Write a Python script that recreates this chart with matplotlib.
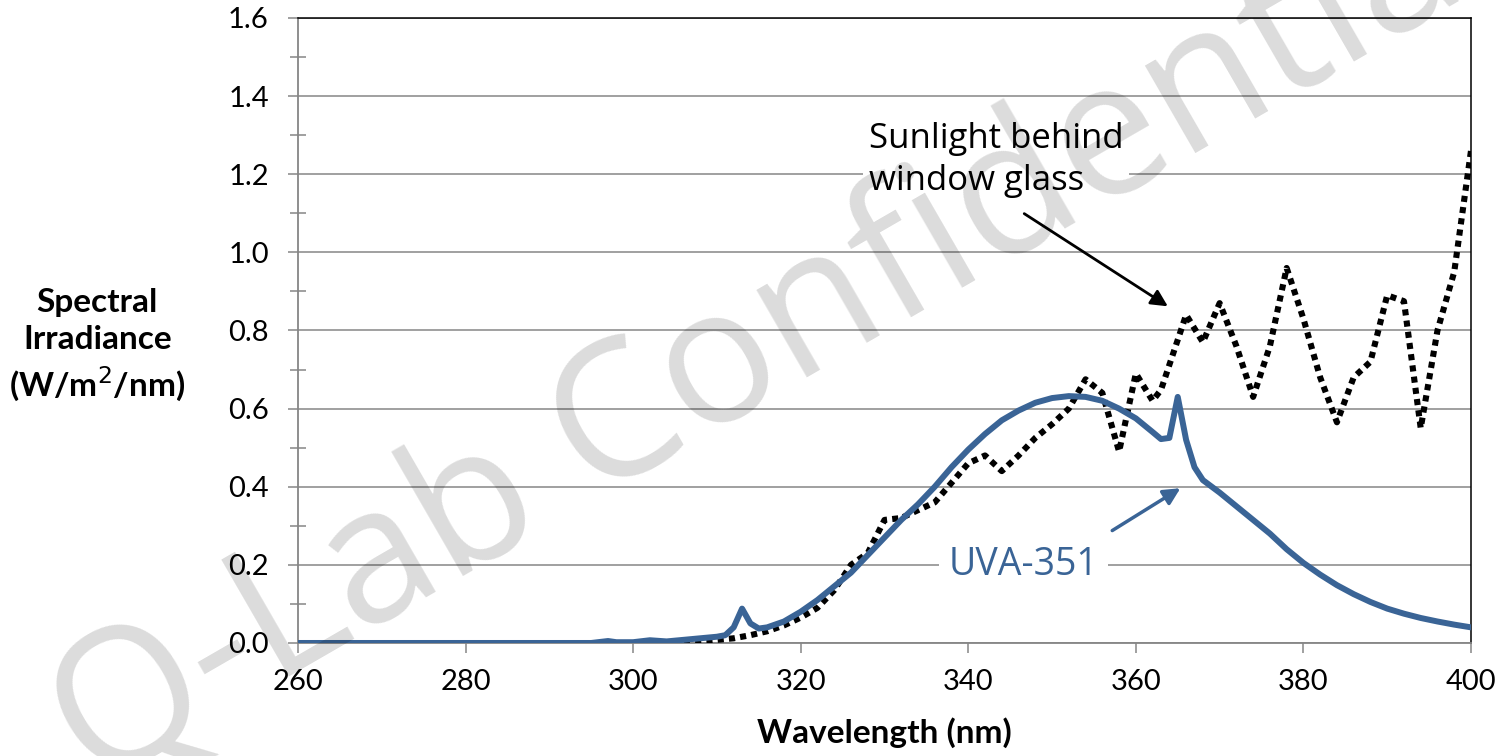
import matplotlib
matplotlib.use('Agg')
import matplotlib.pyplot as plt
import numpy as np

# UVA-351 lamp spectrum
uva_nm = [260, 270, 280, 290, 295, 297, 298, 300, 302, 304, 306, 308, 310, 311, 312, 313, 314, 315,
          316, 318, 320, 322, 324, 326, 328, 330, 332, 334, 336, 338, 340, 342, 344, 346, 348, 350,
          352, 354, 356, 358, 360, 362, 363, 364, 365, 366, 367, 368, 370, 372, 374, 376, 378, 380,
          382, 384, 386, 388, 390, 392, 394, 396, 398, 400]
uva_irr = [0.0, 0.0, 0.0, 0.0, 0.0, 0.005, 0.002, 0.002, 0.007, 0.004, 0.008, 0.012, 0.016, 0.02,
           0.04, 0.088, 0.05, 0.037, 0.04, 0.055, 0.08, 0.11, 0.145, 0.18, 0.225, 0.27, 0.315, 0.355,
           0.4, 0.45, 0.495, 0.535, 0.57, 0.595, 0.615, 0.627, 0.632, 0.63, 0.62, 0.6, 0.575, 0.54,
           0.522, 0.525, 0.63, 0.52, 0.45, 0.417, 0.385, 0.35, 0.315, 0.28, 0.24, 0.205, 0.175,
           0.148, 0.125, 0.105, 0.088, 0.075, 0.064, 0.055, 0.047, 0.04]

# sunlight behind window glass
sun_nm = [302, 304, 306, 308, 310, 312, 314, 316, 318, 320, 322, 324, 326, 328, 330, 332, 334, 336,
          338, 340, 342, 344, 346, 348, 350, 352, 354, 356, 358, 360, 362, 363, 366, 368, 370, 372,
          374, 376, 378, 380, 382, 384, 386, 388, 390, 392, 394, 396, 398, 400]
sun_irr = [0.0, 0.002, 0.003, 0.005, 0.008, 0.012, 0.02, 0.03, 0.045, 0.065, 0.09, 0.135, 0.2, 0.23,
           0.315, 0.32, 0.34, 0.36, 0.41, 0.46, 0.48, 0.44, 0.48, 0.525, 0.56, 0.6, 0.675, 0.64,
           0.49, 0.69, 0.62, 0.648, 0.84, 0.77, 0.87, 0.76, 0.63, 0.76, 0.96, 0.83, 0.68, 0.565,
           0.68, 0.72, 0.89, 0.875, 0.55, 0.8, 0.95, 1.26]

x_ticks = [260, 280, 300, 320, 340, 360, 380, 400]
y_ticks = [0.0, 0.2, 0.4, 0.6, 0.8, 1.0, 1.2, 1.4, 1.6]

blue = '#3a6496'
grid_gray = '#868686'
tick_font = 'Lato'
note_font = 'Open Sans'

fig = plt.figure(figsize=(15.05, 7.56), dpi=100)
ax = fig.add_axes([0.198, 0.1495, 0.7794, 0.8267])

ax.plot(sun_nm, sun_irr, color='black', linewidth=4.4, linestyle=(0, (1, 0.85)),
        dash_capstyle='butt', zorder=3)
ax.plot(uva_nm, uva_irr, color=blue, linewidth=4.3, solid_joinstyle='round', zorder=4)

ax.set_xlim(260, 400)
ax.set_ylim(0, 1.6)
ax.set_xticks(x_ticks)
ax.set_yticks(y_ticks)
ax.set_yticks(np.arange(0.1, 1.6, 0.2), minor=True)
ax.set_yticklabels([f"{v:.1f}" for v in y_ticks])
ax.grid(True, axis='y', which='major', color=grid_gray, linewidth=1.1, zorder=1.5)

for lab in ax.get_xticklabels() + ax.get_yticklabels():
    lab.set_fontfamily(tick_font)
    lab.set_fontsize(21)

ax.tick_params(axis='y', which='major', direction='out', length=7, width=1.1, color=grid_gray, pad=14)
ax.tick_params(axis='y', which='minor', direction='inout', length=12, width=1.1, color=grid_gray)
ax.tick_params(axis='x', which='major', direction='out', length=7, width=1.1, color=grid_gray, pad=12)

ax.spines['left'].set_color(grid_gray)
ax.spines['bottom'].set_color(grid_gray)
ax.spines['left'].set_linewidth(1.3)
ax.spines['bottom'].set_linewidth(1.3)
ax.spines['top'].set_color('black')
ax.spines['right'].set_color('black')
ax.spines['top'].set_linewidth(1.1)
ax.spines['right'].set_linewidth(1.1)

ax.set_xlabel("Wavelength (nm)", fontfamily=tick_font, fontsize=24, fontweight='bold', labelpad=16)
ax.set_ylabel("Spectral\nIrradiance\n(W/m$^2$/nm)", fontfamily=tick_font, fontsize=24,
              fontweight='bold', rotation=0, ha='center', va='center', linespacing=1.35)
ax.yaxis.set_label_coords(-0.171, 0.475)

# annotations
ax.text(343.3, 1.237, "Sunlight behind\nwindow glass", fontfamily=note_font, fontsize=25,
        ha='center', va='center', multialignment='left', linespacing=1.3, zorder=1.6,
        bbox=dict(facecolor='white', edgecolor='none', pad=4))
ax.annotate("", xy=(364.1, 0.858), xytext=(346.4, 1.103),
            arrowprops=dict(arrowstyle='-|>', color='black', lw=2, mutation_scale=25), zorder=5)

ax.text(346.6, 0.2, "UVA-351", fontfamily=note_font, fontsize=27, color=blue,
        ha='center', va='center', zorder=1.6,
        bbox=dict(facecolor='white', edgecolor='none', pad=7))
ax.annotate("", xy=(365.6, 0.40), xytext=(356.9, 0.284),
            arrowprops=dict(arrowstyle='-|>', color=blue, lw=2.5, mutation_scale=25), zorder=5)

# watermark
fig.text(0.062, -0.045, "Q-Lab Confidential", transform=fig.transFigure, fontfamily=note_font,
         fontsize=136, color='black', alpha=0.14, rotation=30, rotation_mode='anchor',
         ha='left', va='baseline', zorder=1.7)

fig.savefig("out.png", dpi=100)
